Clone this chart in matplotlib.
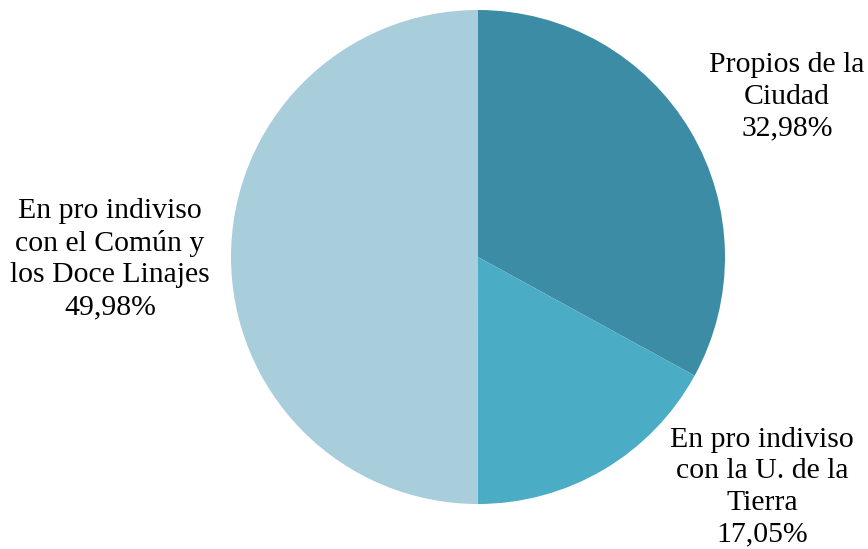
import matplotlib
matplotlib.use("Agg")
import matplotlib.pyplot as plt

categories = ["Propios de la\nCiudad",
              "En pro indiviso\ncon la U. de la\nTierra",
              "En pro indiviso\ncon el Común y\nlos Doce Linajes"]
shares = [32.98, 17.05, 49.98]
colors = ["#3d8ca5", "#4aacc5", "#a8cedc"]

W, H = 868, 549
fig = plt.figure(figsize=(W / 100, H / 100), dpi=100)
ax = fig.add_axes([0, 0, 1, 1])

cx, cy, r = 478, H - 257, 247
ax.pie(shares, colors=colors, startangle=90, counterclock=False,
       center=(cx, cy), radius=r, frame=True,
       wedgeprops=dict(linewidth=0))
ax.set_xlim(0, W)
ax.set_ylim(0, H)
ax.set_aspect("equal")
ax.axis("off")

label_pos = [(787, H - 97), (762, H - 487), (110, H - 259)]
for name, val, (x, y) in zip(categories, shares, label_pos):
    pct = f"{val:.2f}%".replace(".", ",")
    ax.text(x, y, f"{name}\n{pct}", ha="center", va="center", fontsize=21.4,
            family="Liberation Serif", linespacing=1.28, color="black")

fig.savefig("out.png", dpi=100)
